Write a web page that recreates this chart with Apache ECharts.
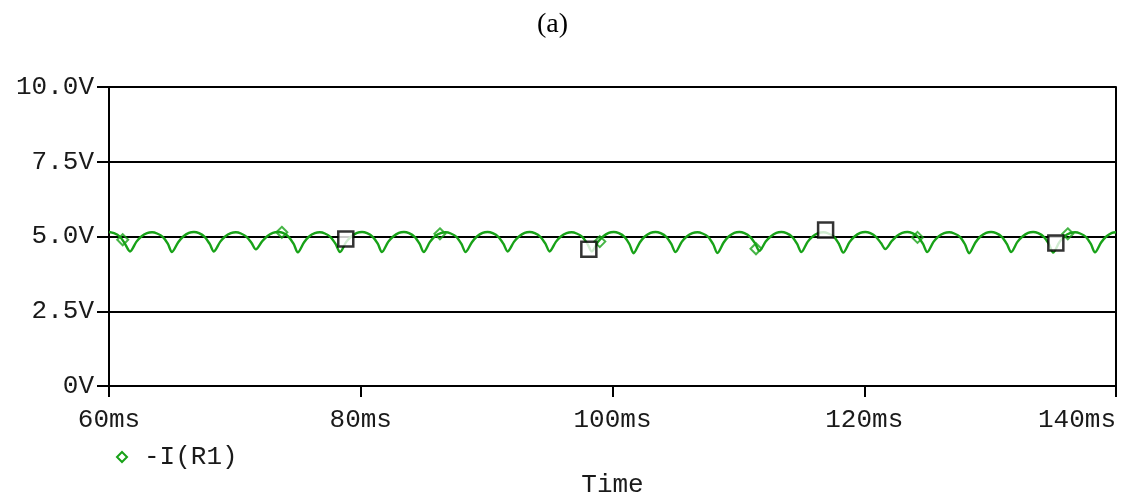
<!DOCTYPE html>
<html>
<head>
<meta charset="utf-8">
<script src="https://cdn.jsdelivr.net/npm/echarts@6/dist/echarts.min.js"></script>
<style>
html,body{margin:0;padding:0;background:#fff;}
#chart{width:1128px;height:503px;}
</style>
</head>
<body>
<div id="chart"></div>
<script>
// ---- data ----
const titleText = '(a)';
const seriesName = '-I(R1)';
const xAxisName = 'Time';
const xTickValues = [60, 80, 100, 120, 140];
const xTickLabels = ['60ms', '80ms', '100ms', '120ms', '140ms'];
const yTickValues = [0, 2.5, 5, 7.5, 10];
const yTickLabels = ['0V', '2.5V', '5.0V', '7.5V', '10.0V'];

// trace -I(R1): [time ms, volts]
const traceR1 = [
  [60.00,5.15],[60.40,5.11],[60.85,5.00],[61.25,4.77],
  [61.67,4.50],[62.17,4.82],[62.57,5.00],[63.02,5.11],[63.42,5.14],[63.82,5.10],[64.27,4.99],[64.67,4.76],
  [65.00,4.48],[65.50,4.81],[65.90,5.00],[66.35,5.12],[66.75,5.15],[67.15,5.11],[67.60,4.99],[68.00,4.75],
  [68.33,4.50],[68.83,4.82],[69.23,5.00],[69.68,5.11],[70.08,5.14],[70.48,5.10],[70.93,4.99],[71.33,4.78],
  [71.67,4.57],[72.17,4.84],[72.57,5.01],[73.02,5.12],[73.42,5.15],[73.82,5.12],[74.27,4.99],[74.67,4.75],
  [75.00,4.47],[75.50,4.81],[75.90,5.00],[76.35,5.11],[76.75,5.14],[77.15,5.10],[77.60,4.98],[78.00,4.75],
  [78.35,4.48],[78.85,4.82],[79.25,5.00],[79.70,5.12],[80.10,5.15],[80.50,5.11],[80.95,4.99],[81.35,4.76],
  [81.68,4.48],[82.18,4.82],[82.58,5.00],[83.03,5.12],[83.43,5.15],[83.83,5.11],[84.28,4.99],[84.68,4.75],
  [85.00,4.48],[85.50,4.82],[85.90,5.01],[86.35,5.11],[86.75,5.14],[87.15,5.10],[87.60,4.99],[88.00,4.75],
  [88.33,4.48],[88.83,4.81],[89.23,5.00],[89.68,5.12],[90.08,5.15],[90.48,5.11],[90.93,4.99],[91.33,4.76],
  [91.67,4.50],[92.17,4.82],[92.57,5.00],[93.02,5.12],[93.42,5.15],[93.82,5.11],[94.27,4.99],[94.67,4.76],
  [95.00,4.50],[95.50,4.82],[95.90,5.00],[96.35,5.11],[96.75,5.14],[97.15,5.10],[97.60,4.99],[98.00,4.76],
  [98.35,4.50],[98.85,4.82],[99.25,5.00],[99.70,5.12],[100.10,5.15],[100.50,5.11],[100.95,4.99],[101.35,4.74],
  [101.67,4.44],[102.17,4.80],[102.57,5.00],[103.02,5.12],[103.42,5.15],[103.82,5.11],[104.27,4.99],[104.67,4.75],
  [105.00,4.48],[105.50,4.82],[105.90,5.00],[106.35,5.11],[106.75,5.14],[107.15,5.10],[107.60,4.99],[108.00,4.74],
  [108.33,4.45],[108.83,4.80],[109.23,5.00],[109.68,5.12],[110.08,5.15],[110.48,5.11],[110.93,4.99],[111.33,4.77],
  [111.67,4.52],[112.17,4.83],[112.57,5.00],[113.02,5.12],[113.42,5.15],[113.82,5.11],[114.27,4.99],[114.67,4.75],
  [115.00,4.48],[115.50,4.82],[115.90,5.00],[116.35,5.11],[116.75,5.14],[117.15,5.10],[117.60,4.99],[118.00,4.74],
  [118.33,4.46],[118.83,4.81],[119.23,5.00],[119.68,5.12],[120.08,5.15],[120.48,5.11],[120.93,4.99],[121.33,4.78],
  [121.67,4.58],[122.17,4.84],[122.57,5.01],[123.02,5.12],[123.42,5.15],[123.82,5.11],[124.27,4.99],[124.67,4.75],
  [125.00,4.48],[125.50,4.82],[125.90,5.00],[126.35,5.11],[126.75,5.14],[127.15,5.10],[127.60,4.99],[128.00,4.74],
  [128.33,4.44],[128.83,4.80],[129.23,5.00],[129.68,5.12],[130.08,5.15],[130.48,5.11],[130.93,4.99],[131.33,4.75],
  [131.67,4.48],[132.17,4.82],[132.57,5.00],[133.02,5.12],[133.42,5.15],[133.82,5.11],[134.27,4.99],[134.67,4.75],
  [135.00,4.46],[135.50,4.81],[135.90,5.00],[136.35,5.11],[136.75,5.14],[137.15,5.10],[137.60,4.99],[138.00,4.75],
  [138.33,4.47],[138.83,4.81],[139.23,5.00],[139.68,5.12],[140.00,5.14]
];

// trace symbols (green hollow diamonds) placed on the trace
const traceSymbols = [
  [61.09,4.89],[73.73,5.14],[86.29,5.09],[98.99,4.83],[111.40,4.59],[124.23,4.97],[136.17,5.09]
];

// black hollow squares
const squareMarks = [
  [78.81,4.92],[98.12,4.57],[116.93,5.22],[135.22,4.78]
];

// ---- chart ----
const green = '#18a218';
const textColor = '#1a1a1a';
const monoFont = '"Liberation Mono", "DejaVu Sans Mono", monospace';
const chart = echarts.init(document.getElementById('chart'), null, {renderer: 'canvas'});

function labelFor(values, labels) {
  return function (v) {
    for (let i = 0; i < values.length; i++) {
      if (Math.abs(values[i] - v) < 1e-6) return labels[i];
    }
    return '';
  };
}

chart.setOption({
  animation: false,
  backgroundColor: '#fff',
  title: {
    text: titleText,
    left: 532,
    top: 6,
    textStyle: {fontFamily: '"Liberation Serif", "DejaVu Serif", serif', fontSize: 28, fontWeight: 'normal', color: '#000'}
  },
  legend: {
    left: 111,
    top: 439,
    itemWidth: 10,
    itemHeight: 10,
    data: [{name: seriesName, icon: 'diamond', itemStyle: {color: '#fff', borderColor: green, borderWidth: 2}}],
    textStyle: {fontFamily: monoFont, fontSize: 26, color: textColor, padding: [0, 0, 0, 12]}
  },
  grid: {left: 109, right: 12, top: 87, bottom: 113, containLabel: false},
  xAxis: {
    type: 'value',
    min: 60,
    max: 140,
    interval: 20,
    name: xAxisName,
    nameLocation: 'middle',
    nameGap: 86,
    nameTextStyle: {fontFamily: monoFont, fontSize: 26, color: textColor},
    axisLine: {show: true, onZero: false, lineStyle: {color: '#000', width: 2}},
    axisTick: {show: true, inside: false, length: 11, lineStyle: {color: '#000', width: 2}},
    axisLabel: {
      margin: 21,
      fontFamily: monoFont, fontSize: 26, color: textColor,
      alignMaxLabel: 'right',
      formatter: labelFor(xTickValues, xTickLabels)
    },
    splitLine: {show: false}
  },
  yAxis: [{
    type: 'value',
    min: 0,
    max: 10,
    interval: 2.5,
    axisLine: {show: true, lineStyle: {color: '#000', width: 2}},
    axisTick: {show: true, inside: false, length: 12, lineStyle: {color: '#000', width: 2}},
    axisLabel: {
      margin: 15,
      fontFamily: monoFont, fontSize: 26, color: textColor,
      formatter: labelFor(yTickValues, yTickLabels)
    },
    splitLine: {show: true, lineStyle: {color: '#000', width: 2}}
  }, {
    type: 'value',
    position: 'right',
    min: 0,
    max: 10,
    interval: 2.5,
    axisLine: {show: true, lineStyle: {color: '#000', width: 2}},
    axisTick: {show: false},
    axisLabel: {show: false},
    splitLine: {show: false}
  }],
  series: [{
    name: seriesName,
    type: 'line',
    data: traceR1,
    showSymbol: false,
    symbol: 'none',
    smooth: 0.3,
    lineStyle: {color: green, width: 2.4},
    itemStyle: {color: green},
    z: 3
  }, {
    name: 'traceSymbols',
    type: 'scatter',
    data: traceSymbols,
    symbol: 'diamond',
    symbolSize: 11,
    itemStyle: {color: 'rgba(255,255,255,0)', borderColor: green, borderWidth: 2},
    z: 4
  }, {
    name: 'squares',
    type: 'scatter',
    data: squareMarks,
    symbol: 'rect',
    symbolSize: 15,
    itemStyle: {color: '#fff', borderColor: '#000', borderWidth: 2.5},
    z: 5
  }]
});
</script>
</body>
</html>
